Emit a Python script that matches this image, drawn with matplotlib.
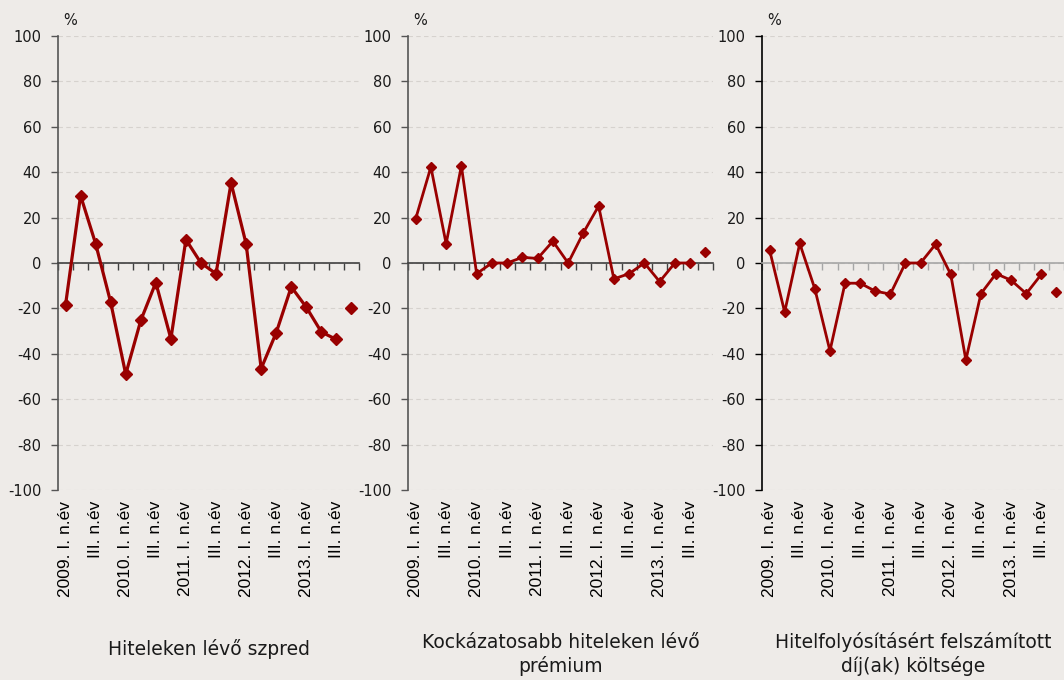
import numpy as np
import matplotlib
matplotlib.use("Agg")
import matplotlib.pyplot as plt

plt.rcParams["axes.unicode_minus"] = False

# negyedévek 2009 I. - 2013 IV.
quarters = []
for year in range(2009, 2014):
    for q in ["I.", "II.", "III.", "IV."]:
        quarters.append(f"{year}. {q} n.év" if q == "I." else f"{q} n.év")

szpred = [-18.5, 29.7, 8.5, -17.3, -49.0, -25.3, -8.6, -33.4, 10.3, 0.0,
          -4.7, 35.3, 8.4, -46.5, -30.7, -10.5, -19.5, -30.4, -33.7, -19.9]
premium = [19.4, 42.3, 8.5, 42.8, -4.7, 0.0, 0.0, 2.5, 2.0, 9.6,
           0.0, 13.3, 25.1, -7.0, -4.7, 0.0, -8.2, 0.0, 0.0, 4.8]
dijak = [5.8, -21.6, 8.6, -11.4, -38.7, -8.9, -8.9, -12.4, -13.7, 0.0,
         0.0, 8.3, -5.0, -42.7, -13.5, -4.7, -7.6, -13.5, -5.0, -12.9]

titles = ["Hiteleken lévő szpred",
          "Kockázatosabb hiteleken lévő\nprémium",
          "Hitelfolyósításért felszámított\ndíj(ak) költsége"]

bg = "#eeebe8"
red = "#990000"

fig = plt.figure(figsize=(10.64, 6.8), dpi=100, facecolor=bg)

# panel helyek pixelben: bal, szélesség
panels = [(58, 301), (408, 305), (762, 302)]
styles = [dict(ms=6, lw=2.3, spine="#555555", zero="#404040"),
          dict(ms=5, lw=2.0, spine="#555555", zero="#404040"),
          dict(ms=5, lw=2.0, spine="#000000", zero="#a6a6a6")]
series = [szpred, premium, dijak]

x = np.arange(len(quarters))
top, bottom = 36, 490

for (left, width), vals, st, title in zip(panels, series, styles, titles):
    ax = fig.add_axes([left / 1064, (680 - bottom) / 680, width / 1064, (bottom - top) / 680])
    ax.set_facecolor(bg)
    vals = np.array(vals)
    ax.plot(x[:-1], vals[:-1], color=red, lw=st["lw"], marker="D", ms=st["ms"], zorder=3)
    ax.plot(x[-1:], vals[-1:], color=red, lw=0, marker="D", ms=st["ms"], zorder=3)

    ax.set_xlim(-0.5, len(x) - 0.5)
    ax.set_ylim(-100, 100)
    ax.set_yticks(np.arange(-100, 101, 20))
    ax.yaxis.grid(True, ls=(0, (4, 3)), color="#d6d2ce", lw=0.8)
    ax.set_axisbelow(True)

    for s in ["top", "right"]:
        ax.spines[s].set_visible(False)
    ax.spines["left"].set_color(st["spine"])
    ax.spines["left"].set_linewidth(1.2)
    ax.spines["bottom"].set_position(("data", 0))
    ax.spines["bottom"].set_color(st["zero"])
    ax.spines["bottom"].set_linewidth(1.2)

    ax.set_xticks(np.arange(-0.5, len(x), 1))
    ax.tick_params(axis="x", direction="out", length=5, width=1, color=st["zero"], labelbottom=False)
    ax.tick_params(axis="y", direction="out", length=5, width=1, color=st["spine"],
                   labelsize=10.5, labelcolor="#1a1a1a", pad=7)
    for t in ax.get_yticklabels():
        t.set_fontfamily("DejaVu Sans")

    sec = ax.secondary_xaxis("bottom")
    sec.set_xticks(x[::2], quarters[::2], rotation=90, fontsize=12.5, family="Liberation Sans")
    sec.spines["bottom"].set_visible(False)
    sec.tick_params(length=0, pad=8)

    ax.text(0.04, 1.035, "%", transform=ax.transAxes, fontsize=10.5, va="center", ha="center",
            color="#1a1a1a")
    ty = -0.362 if "\n" in title else -0.35
    ax.text(0.5, ty, title, transform=ax.transAxes, ha="center", va="center",
            fontsize=13.5, family="DejaVu Sans", color="#1a1a1a", linespacing=1.25)

fig.savefig("out.png", dpi=100, facecolor=bg)
